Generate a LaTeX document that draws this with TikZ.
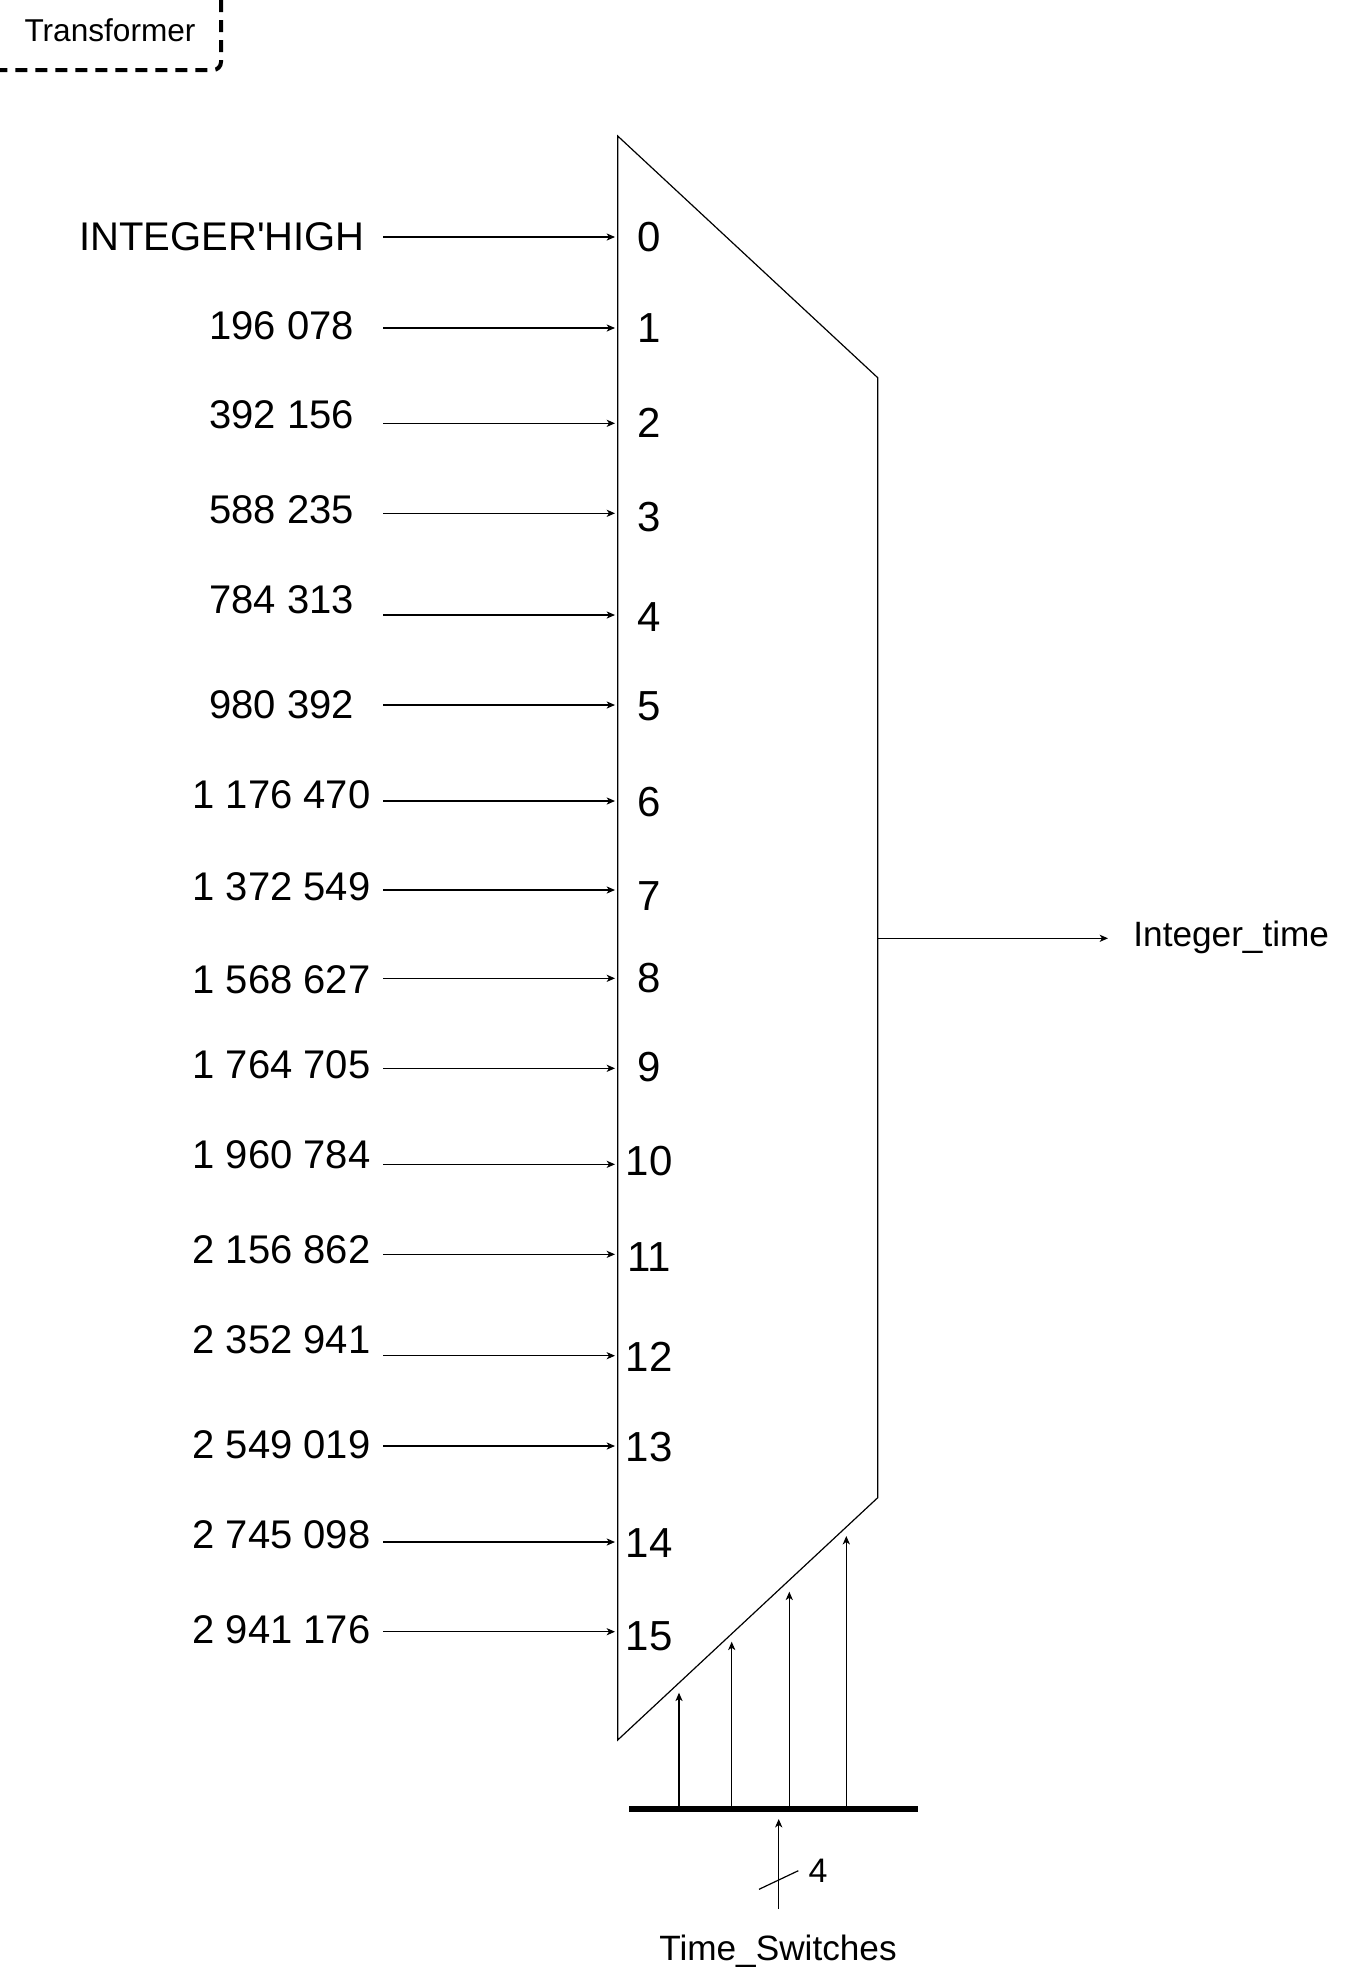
\documentclass[tikz,border=0pt]{standalone}
\usepackage{fontspec}
\setmainfont{Liberation Sans}
\usetikzlibrary{arrows.meta}

\begin{document}
\begin{tikzpicture}[x=0.5pt,y=-0.5pt,
  wire/.style={line width=0.6pt,-{Stealth[length=4.2pt,width=3.6pt,inset=1.2pt]}},
  value/.style={font=\fontsize{20}{24}\selectfont,inner sep=0pt},
  port/.style={font=\fontsize{21}{24}\selectfont,inner sep=0pt},
  sig/.style={font=\fontsize{17.6}{20}\selectfont,inner sep=0pt}]

\useasboundingbox (0,0) rectangle (1360,1970);

% block frame, only its corner is visible
\draw[line width=2pt,dash pattern=on 6pt off 4pt,rounded corners=4pt]
  (221,-20) -- (221,70) -- (-20,70);
\node[font=\fontsize{15.8}{18}\selectfont,inner sep=0pt,anchor=base] (tf) at (110,41.7) {Transformer};

% multiplexer body
\coordinate (mTL) at (617.7,136);
\coordinate (mTR) at (877.7,377.7);
\coordinate (mBR) at (877.7,1497.7);
\coordinate (mBL) at (617.7,1740);
\draw[line width=0.6pt] (mTL) -- (mTR) -- (mBR) -- (mBL) -- cycle;

% -------- data inputs --------
\foreach \lx/\lab/\ly/\ay/\ny [count=\n from 0] in {
  222/{INTEGER\textquotesingle HIGH}/237/237/237,
  281.5/{196 078}/325.5/328/328,
  281.5/{392 156}/415/423.3/423,
  281.5/{588 235}/510/513.3/516.7,
  281.5/{784 313}/600/615/617,
  281.5/{980 392}/705/705/706.7,
  281.5/{1 176 470}/795/801/801.7,
  281.5/{1 372 549}/887/890/896,
  281.5/{1 568 627}/980/978.3/978,
  281.5/{1 764 705}/1065/1068.3/1066.7,
  281.5/{1 960 784}/1155/1164.3/1161.5,
  281.5/{2 156 862}/1250/1254.3/1256.7,
  281.5/{2 352 941}/1340/1355.7/1356.7,
  281.5/{2 549 019}/1445/1446/1446.7,
  281.5/{2 745 098}/1535/1542/1542.7,
  281.5/{2 941 176}/1630/1631.7/1636.7}
{
  \node[value] (v\n) at (\lx,\ly) {\lab};
  \node[port] (p\n) at (649,\ny) {\n};
  \coordinate (s\n) at (383,\ay);
  \coordinate (e\n) at (615,\ay);
  \draw[wire] (s\n) -- (e\n);
}

% -------- output --------
\coordinate (out) at (877.7,938.3);
\coordinate (outend) at (1108,938.3);
\draw[wire] (out) -- (outend);
\node[sig,anchor=base west] (itime) at (1133,946.7) {Integer\_time};

% -------- select bus --------
\coordinate (busL) at (629,1809);
\coordinate (busR) at (918,1809);
\draw[line width=3pt] (busL) -- (busR);

\foreach \sx/\sy [count=\k] in {679/1692.7,731.7/1641.7,789.3/1591.7,846.3/1536}
{
  \coordinate (b\k) at (\sx,1807);
  \coordinate (t\k) at (\sx,\sy);
  \draw[wire] (b\k) -- (t\k);
}

\coordinate (tsin) at (778.7,1909);
\coordinate (busin) at (778.7,1819);
\draw[wire] (tsin) -- (busin);
\draw[line width=0.6pt] (759,1889.3) -- (798.3,1870.7);
\node[sig,font=\fontsize{17}{20}\selectfont] (w4) at (818,1871) {4};
\node[sig,anchor=base] (ts) at (778,1960) {Time\_Switches};

\end{tikzpicture}
\end{document}
